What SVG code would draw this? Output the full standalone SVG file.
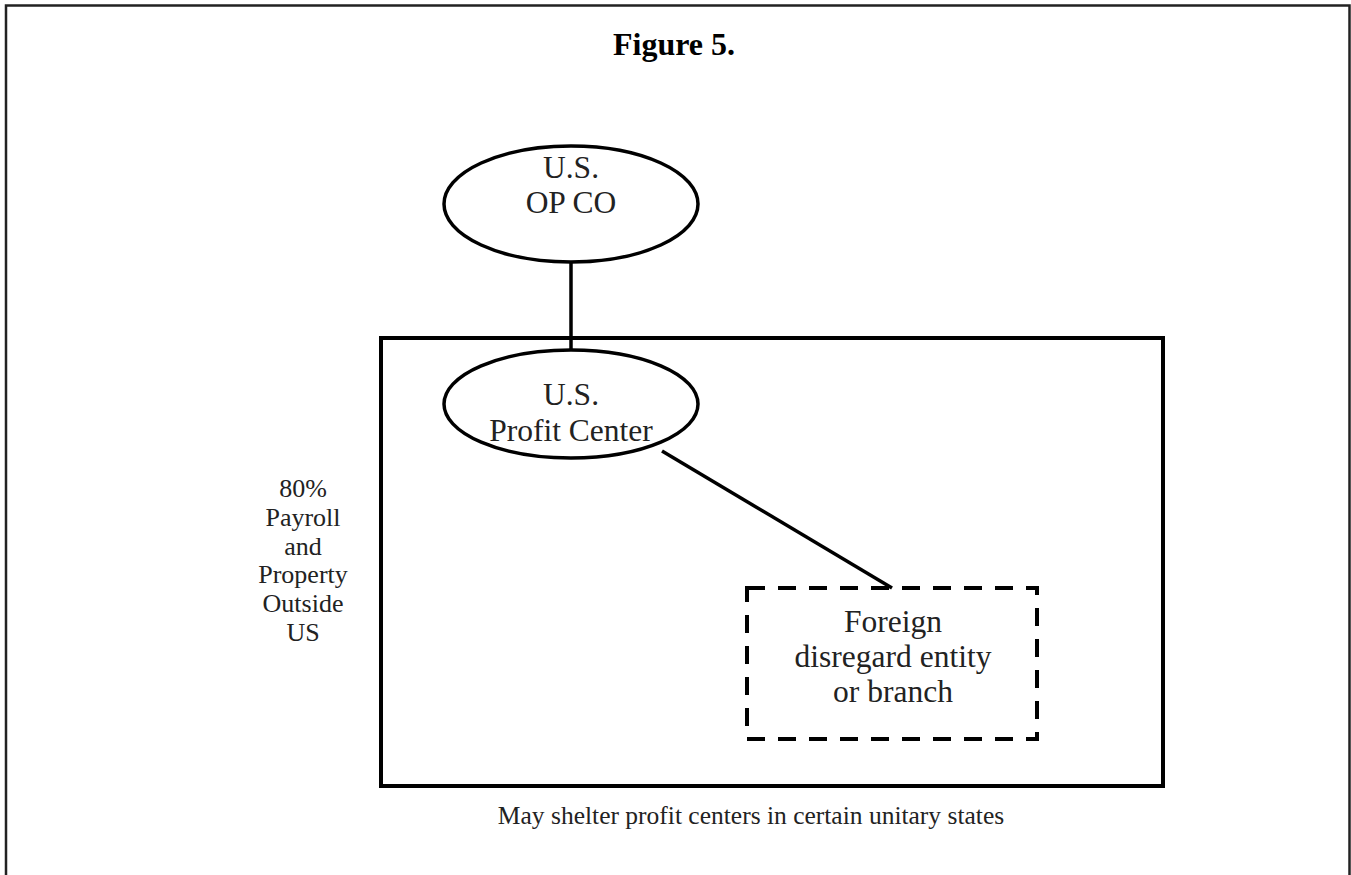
<svg xmlns="http://www.w3.org/2000/svg" width="1351" height="875" viewBox="0 0 1351 875">
  <style>
    .frame { fill: none; stroke: #222; stroke-width: 2.5; }
    .shape { fill: #fff; stroke: #000; stroke-width: 3.5; }
    .boundary { fill: none; stroke: #000; stroke-width: 4; }
    .dashed { fill: none; stroke: #000; stroke-width: 4; stroke-dasharray: 18 13; }
    .link { stroke: #000; stroke-width: 3.5; fill: none; }
    .t { font-family: "Liberation Serif", "Times New Roman", serif; fill: #222; text-anchor: middle; }
    .title { font-size: 32px; font-weight: bold; fill: #000; }
    .node { font-size: 31.5px; }
    .side { font-size: 26px; }
    .note { font-size: 25.5px; }
  </style>

  <rect width="1351" height="875" fill="#fff"/>

  <!-- page frame: top and sides only -->
  <path class="frame" d="M6 875 V5.5 H1349.5 V875"/>

  <text class="t title" x="674" y="55">Figure 5.</text>

  <!-- grouping boundary -->
  <g id="boundary">
    <rect class="boundary" x="381" y="338" width="782" height="448"/>
  </g>

  <!-- connectors -->
  <g id="connectors">
    <line class="link" x1="571" y1="262" x2="571" y2="352"/>
    <line class="link" x1="662" y1="451" x2="892" y2="588"/>
  </g>

  <g id="us-opco">
    <ellipse class="shape" cx="571" cy="204" rx="127" ry="58"/>
    <text class="t node" x="571" y="178">U.S.</text>
    <text class="t node" x="571" y="213">OP CO</text>
  </g>

  <g id="us-profit-center">
    <ellipse class="shape" cx="571" cy="404" rx="127" ry="54"/>
    <text class="t node" x="571" y="405">U.S.</text>
    <text class="t node" x="571" y="441">Profit Center</text>
  </g>

  <g id="foreign-entity">
    <rect class="dashed" x="747" y="588" width="290" height="151"/>
    <text class="t node" x="893" y="632">Foreign</text>
    <text class="t node" x="893" y="667">disregard entity</text>
    <text class="t node" x="893" y="702">or branch</text>
  </g>

  <g id="side-label">
    <text class="t side" x="303" y="497">80%</text>
    <text class="t side" x="303" y="526">Payroll</text>
    <text class="t side" x="303" y="555">and</text>
    <text class="t side" x="303" y="583">Property</text>
    <text class="t side" x="303" y="612">Outside</text>
    <text class="t side" x="303" y="641">US</text>
  </g>

  <text class="t note" x="751" y="824">May shelter profit centers in certain unitary states</text>
</svg>
